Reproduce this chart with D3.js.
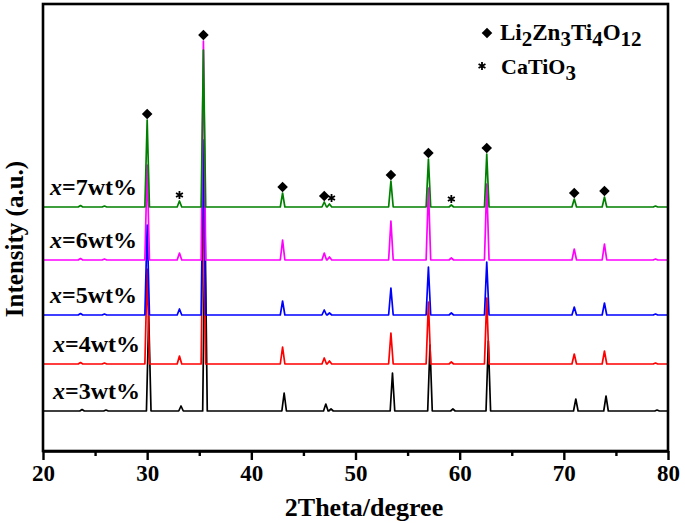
<!DOCTYPE html>
<html><head><meta charset="utf-8">
<script src="https://cdn.jsdelivr.net/npm/d3@7"></script>
<style>body{margin:0;background:#fff}svg text{font-family:"Liberation Serif","Times New Roman",serif;font-weight:bold}</style>
</head><body><svg id="c" width="685" height="523"></svg>
<script>
// ---- data ----
const twoTheta = [23.6, 25.9, 30.0, 33.1, 35.4, 43.0, 47.0, 47.5, 53.4, 57.0, 59.2, 62.6, 71.0, 73.9, 78.8];
const int3wt = [1.5, 1, 95, 5, 190, 18, 7, 2, 38, 66, 2, 70, 12, 15, 1];
const int4wt = [1.5, 1, 95, 8, 185, 17, 6, 3, 31, 62, 2, 66, 10, 13, 1];
const int5wt = [1.5, 1, 90, 6, 175, 14, 5, 2, 27, 48, 2, 53, 8, 12, 1];
const int6wt = [1.5, 1, 95, 7, 219, 20, 7, 3, 39, 72, 2, 76, 11, 16, 1];
const int7wt = [1.5, 1, 87, 6, 157, 14, 5, 3, 26, 48, 2, 53, 8, 10, 1];
const sampleLabels = ["3", "4", "5", "6", "7"];
const sampleShift = [0.15, 0, 0, 0, 0];
const sampleOffset = [40, 87, 136, 191, 244];
const diamond2Theta = [30.0, 35.4, 43.0, 47.0, 53.4, 57.0, 62.6, 71.0, 73.9];
const star2Theta = [33.1, 47.7, 59.2];
const xTicks = [20, 30, 40, 50, 60, 70, 80];
const xMinorTicks = [25, 35, 45, 55, 65, 75];

// ---- styles ----
const colors = ["#000000", "#ff0000", "#0000ff", "#ff00ff", "#008000"];
const labelX = [53, 53, 50, 50, 50];
const halfWidth = 0.22;

const svg = d3.select("#c");
const x = d3.scaleLinear().domain([20, 80]).range([43, 668]);
const y = d3.scaleLinear().domain([0, 447]).range([451, 4]);

const series = [int3wt, int4wt, int5wt, int6wt, int7wt].map((vals, i) => {
  const pts = [[20, sampleOffset[i]]];
  twoTheta.forEach((p, j) => {
    const c = p + sampleShift[i];
    pts.push([c - halfWidth, sampleOffset[i]]);
    pts.push([c, sampleOffset[i] + vals[j]]);
    pts.push([c + halfWidth, sampleOffset[i]]);
  });
  pts.push([80, sampleOffset[i]]);
  return {vals, pts, color: colors[i], label: sampleLabels[i], off: sampleOffset[i], i};
});

const line = d3.line().x(d => x(d[0])).y(d => y(d[1]));
svg.append("g").selectAll("path").data(series).join("path")
  .attr("d", d => line(d.pts))
  .attr("fill", "none").attr("stroke", d => d.color)
  .attr("stroke-width", 1.7).attr("stroke-linejoin", "round");

// series labels
series.forEach(s => {
  const t = svg.append("text").attr("x", labelX[s.i]).attr("y", y(s.off) - 12)
    .attr("font-size", 24).attr("fill", "#000");
  t.append("tspan").attr("font-style", "italic").text("x");
  t.append("tspan").text("=" + s.label + "wt%");
});

// markers: top-most screen point among series at the peak
function topAt(p) {
  let best = Infinity;
  series.forEach(s => {
    twoTheta.forEach((t, j) => {
      if (Math.abs(t - p) < 0.35) best = Math.min(best, y(s.off + s.vals[j]));
    });
  });
  return best;
}
const diamondPath = d3.symbol().type(d3.symbolSquare).size(56)();
svg.append("g").selectAll("path").data(diamond2Theta).join("path")
  .attr("d", diamondPath)
  .attr("transform", d => `translate(${x(d)},${topAt(d) - 6}) rotate(45)`)
  .attr("fill", "#000");
const starPath = d3.symbol().type(d3.symbolAsterisk).size(44)();
svg.append("g").selectAll("path").data(star2Theta).join("path")
  .attr("d", starPath)
  .attr("transform", d => `translate(${x(d)},${topAt(d) - 6})`)
  .attr("fill", "none").attr("stroke", "#000").attr("stroke-width", 1.8);

// frame
svg.append("rect").attr("x", 43).attr("y", 4).attr("width", 625).attr("height", 447)
  .attr("fill", "none").attr("stroke", "#000").attr("stroke-width", 2.6);

// axes
const ax = svg.append("g").attr("transform", "translate(0,451)")
  .call(d3.axisBottom(x).tickValues(xTicks).tickSize(9).tickSizeOuter(0).tickPadding(5).tickFormat(d3.format("d")));
ax.select(".domain").attr("stroke-width", 2.6);
ax.selectAll(".tick line").attr("stroke-width", 2.4);
ax.selectAll(".tick text").attr("font-size", 23).attr("font-family", "Liberation Serif").attr("font-weight", "bold").attr("fill", "#000");
const axm = svg.append("g").attr("transform", "translate(0,451)")
  .call(d3.axisBottom(x).tickValues(xMinorTicks).tickSize(5).tickSizeOuter(0).tickFormat(""));
axm.select(".domain").remove();
axm.selectAll(".tick line").attr("stroke-width", 2.4);

// axis titles
svg.append("text").attr("x", 364).attr("y", 516).attr("text-anchor", "middle")
  .attr("font-size", 26).text("2Theta/degree");
svg.append("text").attr("transform", "translate(23,239) rotate(-90)").attr("text-anchor", "middle")
  .attr("font-size", 25).text("Intensity (a.u.)");

// legend
svg.append("path").attr("d", diamondPath).attr("transform", "translate(487,33) rotate(45)").attr("fill", "#000");
const l1 = svg.append("text").attr("x", 500).attr("y", 40).attr("font-size", 23);
[["Li", 0], ["2", 1], ["Zn", 0], ["3", 1], ["Ti", 0], ["4", 1], ["O", 0], ["12", 1]].forEach(([s, sub], k, arr) => {
  const prevSub = k > 0 && arr[k - 1][1];
  const dy = sub && !prevSub ? 6 : (!sub && prevSub ? -6 : 0);
  l1.append("tspan").attr("dy", dy).attr("font-size", sub ? 21 : 23).text(s);
});
svg.append("path").attr("d", starPath).attr("transform", "translate(482,66)")
  .attr("fill", "none").attr("stroke", "#000").attr("stroke-width", 1.8);
const l2 = svg.append("text").attr("x", 501).attr("y", 74).attr("font-size", 22);
l2.append("tspan").text("CaTiO");
l2.append("tspan").attr("dy", 6).attr("font-size", 21).text("3");
</script></body></html>
